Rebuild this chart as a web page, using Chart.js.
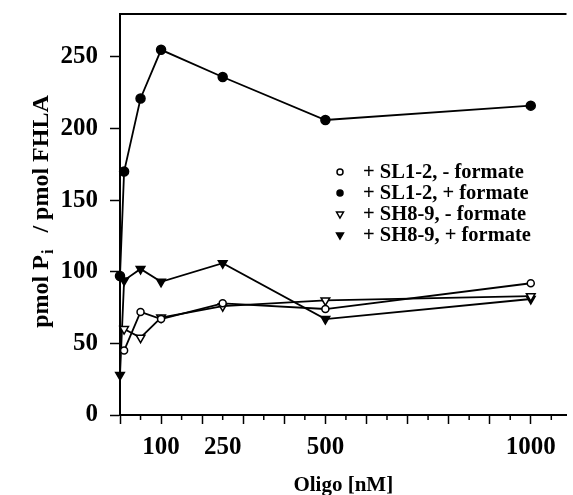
<!DOCTYPE html>
<html><head><meta charset="utf-8">
<script src="https://cdn.jsdelivr.net/npm/chart.js@4.4.0/dist/chart.umd.min.js"></script>
<style>html,body{margin:0;padding:0;background:#fff;}#wrap{width:573px;height:495px;position:relative;}</style>
</head><body><div id="wrap"><canvas id="c"></canvas></div>
<script>
// Data
const oligoConc = [0, 10, 50, 100, 250, 500, 1000];
const sl12MinusFormate = [null, 45, 72, 67, 78, 74, 92];
const sl12PlusFormate = [97, 170, 221, 255, 236, 206, 216];
const sh89MinusFormate = [null, 60, 54, 68, 76, 80, 83];
const sh89PlusFormate = [28, 94, 102, 93, 106, 67, 81];
const seriesLabels = ['+ SL1-2, - formate', '+ SL1-2, + formate', '+ SH8-9, - formate', '+ SH8-9, + formate'];
const xTickLabels = [100, 250, 500, 1000];
const yTicks = [0, 50, 100, 150, 200, 250];

const FONT = "'Liberation Serif', 'Times New Roman', serif";
const toPts = arr => oligoConc.map((x, i) => ({x, y: arr[i]})).filter(p => p.y !== null);

const styles = [
  {pointStyle: 'circle', radius: 3.5, bg: '#fff', rot: 0},
  {pointStyle: 'circle', radius: 4.5, bg: '#000', rot: 0},
  {pointStyle: 'triangle', radius: 5, bg: '#fff', rot: 180},
  {pointStyle: 'triangle', radius: 5, bg: '#000', rot: 180}
];
const seriesData = [sl12MinusFormate, sl12PlusFormate, sh89MinusFormate, sh89PlusFormate];

const datasets = seriesData.map((arr, i) => ({
  label: seriesLabels[i],
  data: toPts(arr),
  borderColor: '#000',
  borderWidth: 1.8,
  pointStyle: styles[i].pointStyle,
  pointRotation: styles[i].rot,
  pointRadius: styles[i].radius,
  pointBackgroundColor: styles[i].bg,
  pointBorderColor: '#000',
  pointBorderWidth: 1.5,
  tension: 0,
  fill: false,
  clip: false
}));

const decoPlugin = {
  id: 'deco',
  afterDraw(chart) {
    const {ctx, chartArea: a, scales: {x, y}} = chart;
    ctx.save();
    // top frame line
    ctx.strokeStyle = '#000';
    ctx.lineWidth = 2;
    ctx.beginPath(); ctx.moveTo(a.left - 1, a.top); ctx.lineTo(a.right, a.top); ctx.stroke();
    // minor x ticks (every 50 between majors)
    ctx.lineWidth = 1.5;
    x.ticks.forEach(t => {
      if (t.value % 100 !== 0) {
        const px = x.getPixelForValue(t.value);
        ctx.beginPath(); ctx.moveTo(px, a.bottom); ctx.lineTo(px, a.bottom + 5); ctx.stroke();
      }
    });
    // y axis title with subscript
    ctx.fillStyle = '#000';
    ctx.translate(a.left - 78, (a.top + a.bottom) / 2 - 3);
    ctx.rotate(-Math.PI / 2);
    const big = "bold 24px " + FONT, small = "bold 16px " + FONT;
    const p1 = 'pmol P', sub = 'i', p2 = '   / pmol FHLA';
    ctx.font = big; const w1 = ctx.measureText(p1).width, w3 = ctx.measureText(p2).width;
    ctx.font = small; const w2 = ctx.measureText(sub).width;
    let sx = -(w1 + w2 + w3) / 2;
    ctx.textBaseline = 'middle'; ctx.textAlign = 'left';
    ctx.font = big; ctx.fillText(p1, sx, 0); sx += w1;
    ctx.font = small; ctx.fillText(sub, sx + 1, 7); sx += w2;
    ctx.font = big; ctx.fillText(p2, sx, 0);
    ctx.restore();
    // legend inside the plot
    ctx.save();
    const lx = a.left + 220, tx = a.left + 243, ly0 = a.top + 158, step = 21;
    chart.data.datasets.forEach((ds, i) => {
      const yy = ly0 + i * step;
      ctx.fillStyle = ds.pointBackgroundColor;
      ctx.strokeStyle = '#000';
      ctx.lineWidth = 1.5;
      Chart.helpers.drawPoint(ctx, {pointStyle: ds.pointStyle, rotation: ds.pointRotation, radius: ds.pointStyle === 'circle' ? 3 : 4, borderWidth: 1.5}, lx, yy);
      ctx.fillStyle = '#000';
      ctx.font = "bold 20.5px " + FONT;
      ctx.textBaseline = 'middle'; ctx.textAlign = 'left';
      ctx.fillText(ds.label, tx, yy + 1);
    });
    ctx.restore();
  }
};

new Chart(document.getElementById('c'), {
  type: 'line',
  data: {datasets},
  options: {
    responsive: true, maintainAspectRatio: false, animation: false,
    layout: {padding: {top: 14, left: 0, right: 0, bottom: 0}},
    plugins: {legend: {display: false}, tooltip: {enabled: false}},
    scales: {
      x: {
        type: 'linear', min: 0, max: 1087,
        afterBuildTicks: s => { const t = []; for (let v = 0; v <= 1050; v += 50) t.push({value: v}); s.ticks = t; },
        afterFit: s => { s.height = 80; s.paddingLeft = 0; s.paddingRight = 0; },
        ticks: {autoSkip: false, maxRotation: 0, color: '#000', padding: 9,
          font: {family: FONT, size: 25, weight: 'bold'},
          callback: v => xTickLabels.includes(v) ? String(v) : ''},
        grid: {drawOnChartArea: false, tickLength: 9, tickWidth: 1.5,
          tickColor: c => (c.tick && c.tick.value % 100 === 0) ? '#000' : 'rgba(0,0,0,0)'},
        border: {color: '#000', width: 2},
        title: {display: true, text: 'Oligo [nM]', color: '#000', font: {family: FONT, size: 21, weight: 'bold', lineHeight: 0.85}, padding: {top: 2, bottom: 0}}
      },
      y: {
        min: 0, max: 280,
        afterBuildTicks: s => { s.ticks = yTicks.map(v => ({value: v})); },
        afterFit: s => { s.width = 120; s.paddingTop = 0; s.paddingBottom = 0; },
        ticks: {color: '#000', padding: 12, font: {family: FONT, size: 25, weight: 'bold'}},
        grid: {drawOnChartArea: false, tickLength: 10, tickWidth: 1.5, tickColor: '#000'},
        border: {color: '#000', width: 2}
      }
    }
  },
  plugins: [decoPlugin]
});
</script></body></html>
